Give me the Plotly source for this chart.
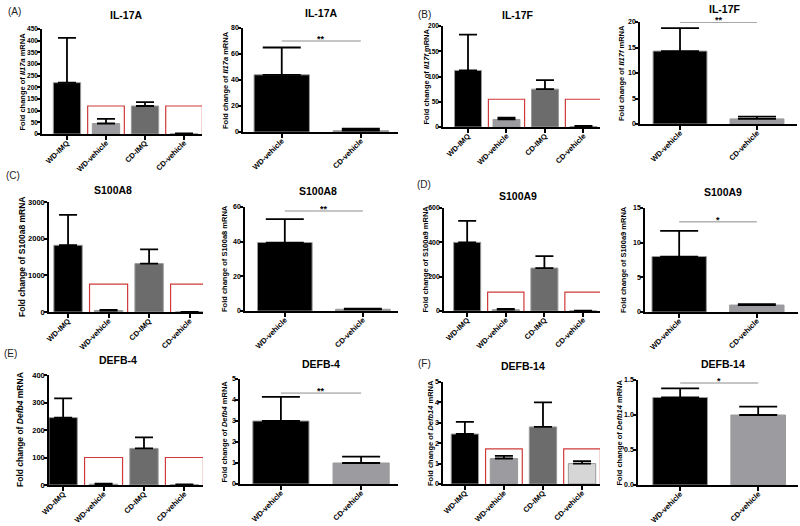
import plotly.graph_objects as go

W, H = 800, 526

# ---------------- data ----------------
groups4 = ["WD-IMQ", "WD-vehicle", "CD-IMQ", "CD-vehicle"]
groups2 = ["WD-vehicle", "CD-vehicle"]

il17a_all = [220, 45, 120, 1]
il17a_all_err = [192, 20, 17, 2]
il17a_veh = [44, 1]
il17a_veh_err = [21, 1.5]

il17f_all = [112, 15, 75, 1]
il17f_all_err = [71, 3.5, 18, 1]
il17f_veh = [14.3, 1.0]
il17f_veh_err = [4.5, 0.45]

s100a8_all = [1820, 40, 1320, 1]
s100a8_all_err = [830, 15, 390, 1]
s100a8_veh = [39.5, 1.0]
s100a8_veh_err = [13.5, 0.3]

s100a9_all = [400, 8, 250, 1]
s100a9_all_err = [125, 4, 70, 1]
s100a9_veh = [8.0, 1.0]
s100a9_veh_err = [3.7, 0.15]

defb4_all = [245, 3, 133, 1]
defb4_all_err = [70, 2, 40, 1]
defb4_veh = [3.0, 1.0]
defb4_veh_err = [1.15, 0.3]

defb14_all = [2.45, 1.25, 2.8, 1.0]
defb14_all_err = [0.6, 0.13, 1.2, 0.12]
defb14_veh = [1.25, 1.0]
defb14_veh_err = [0.13, 0.12]

sig_labels = ["**", "**", "**", "*", "**", "*"]

# ---------------- styles / layout ----------------
colors4 = ["#000000", "#9c9ca0", "#6c6c6c", "#d6d6d6"]
colors2 = ["#000000", "#9c9ca0"]
FONT = "Liberation Sans, Arial, sans-serif"

# x0,x1 = px of y-axis / end of x-axis; ytop,yz = px of top / zero
panels = [
    dict(title="IL-17A", gene="<i>Il17a</i>", y=il17a_all, e=il17a_all_err, cats=groups4,
         x0=42, x1=202, ytop=29, yz=134, ymax=450, dtick=50, xr=[-0.64, 3.46],
         tpos=(126, 15), yoff=20, box=(120, -12), fs=7.5, tf=6.5),
    dict(title="IL-17A", gene="<i>Il17a</i>", y=il17a_veh, e=il17a_veh_err, cats=groups2,
         x0=243, x1=398, ytop=28, yz=132, ymax=80, dtick=20, xr=[-0.49, 1.47],
         tpos=(321, 13), yoff=17, sig=(70, sig_labels[0]), fs=7.5, tf=7),
    dict(title="IL-17F", gene="<i>Il17f</i>", y=il17f_all, e=il17f_all_err, cats=groups4,
         x0=443, x1=600, ytop=26, yz=127, ymax=200, dtick=50, xr=[-0.65, 3.43],
         tpos=(518, 15), yoff=17, box=(55, -6), fs=7.5, tf=6.5),
    dict(title="IL-17F", gene="<i>Il17f</i>", y=il17f_veh, e=il17f_veh_err, cats=groups2,
         x0=640, x1=797, ytop=22, yz=124, ymax=20, dtick=5, xr=[-0.52, 1.52],
         tpos=(725, 9), yoff=19, sig=(19.95, sig_labels[1]), fs=7.5, tf=7),
    dict(title="S100A8", gene="S100a8", y=s100a8_all, e=s100a8_all_err, cats=groups4,
         x0=49, x1=203, ytop=202, yz=312, ymax=3000, dtick=1000, xr=[-0.47, 3.33],
         tpos=(113, 190), yoff=27, box=(760, -55), fs=8.5, tf=7.5),
    dict(title="S100A8", gene="S100a8", y=s100a8_veh, e=s100a8_veh_err, cats=groups2,
         x0=245, x1=398, ytop=207, yz=311, ymax=60, dtick=20, xr=[-0.51, 1.45],
         tpos=(318, 191), yoff=20, sig=(57.7, sig_labels[2]), fs=7.5, tf=7),
    dict(title="S100A9", gene="S100a9", y=s100a9_all, e=s100a9_all_err, cats=groups4,
         x0=444, x1=600, ytop=208, yz=311, ymax=600, dtick=200, xr=[-0.6, 3.44],
         tpos=(518, 196), yoff=19, box=(110, -12), fs=7.5, tf=7),
    dict(title="S100A9", gene="S100a9", y=s100a9_veh, e=s100a9_veh_err, cats=groups2,
         x0=645, x1=798, ytop=208, yz=312, ymax=15, dtick=5, xr=[-0.44, 1.53],
         tpos=(723, 192), yoff=22, sig=(13, sig_labels[3]), fs=7.5, tf=7),
    dict(title="DEFB-4", gene="<i>Defb4</i>", y=defb4_all, e=defb4_all_err, cats=groups4,
         x0=49, x1=203, ytop=375, yz=485, ymax=400, dtick=100, xr=[-0.35, 3.46],
         tpos=(118, 360), yoff=29, box=(100, -12), fs=8.5, tf=7.5),
    dict(title="DEFB-4", gene="<i>Defb4</i>", y=defb4_veh, e=defb4_veh_err, cats=groups2,
         x0=240, x1=398, ytop=379, yz=484, ymax=5, dtick=1, xr=[-0.51, 1.46],
         tpos=(321, 364), yoff=16, sig=(4.33, sig_labels[4]), fs=7.5, tf=7),
    dict(title="DEFB-14", gene="<i>Defb14</i>", y=defb14_all, e=defb14_all_err, cats=groups4,
         x0=443, x1=600, ytop=382, yz=484, ymax=5, dtick=1, xr=[-0.56, 3.46],
         tpos=(523, 366), yoff=13, box=(1.72, -0.15), fs=7.5, tf=7),
    dict(title="DEFB-14", gene="<i>Defb14</i>", y=defb14_veh, e=defb14_veh_err, cats=groups2,
         x0=638, x1=798, ytop=380, yz=485, ymax=1.5, dtick=0.5, xr=[-0.54, 1.51],
         tpos=(723, 364), yoff=19, sig=(1.457, sig_labels[5]), fs=7.5, tf=7, fmt=".1f"),
]

panel_letters = [("(A)", 6, 12), ("(B)", 416, 15), ("(C)", 4, 175),
                 ("(D)", 415, 184), ("(E)", 2, 353), ("(F)", 416, 363)]

fig = go.Figure()
annotations = []
layout = {}

for k, p in enumerate(panels, start=1):
    xa = "x" if k == 1 else f"x{k}"
    ya = "y" if k == 1 else f"y{k}"
    n = len(p["cats"])
    cols = colors4 if n == 4 else colors2
    cap = 9 if n == 4 else 19
    xs = list(range(n))
    fig.add_trace(go.Bar(
        x=xs, y=p["y"], width=0.7, xaxis=xa, yaxis=ya, showlegend=False,
        marker=dict(color=cols, line=dict(color="#9a9a9a", width=1)),
        error_y=dict(type="data", symmetric=False, array=p["e"], arrayminus=[0] * n,
                     color="black", thickness=1.8, width=cap),
    ))
    if "box" in p:
        top, bot = p["box"]
        for i in (1, 3):
            fig.add_trace(go.Scatter(
                x=[i - 0.47, i + 0.47, i + 0.47, i - 0.47, i - 0.47],
                y=[bot, bot, top, top, bot], mode="lines", xaxis=xa, yaxis=ya,
                line=dict(color="#d03a3a", width=1.2), cliponaxis=False,
                showlegend=False, hoverinfo="skip"))
    if "sig" in p:
        h, lab = p["sig"]
        fig.add_trace(go.Scatter(
            x=[0, 1], y=[h, h], mode="lines", xaxis=xa, yaxis=ya,
            line=dict(color="#8c8c8c", width=1), cliponaxis=False,
            showlegend=False, hoverinfo="skip"))
        annotations.append(dict(x=0.5, y=h, xref=xa, yref=ya, text=lab, showarrow=False,
                                yanchor="bottom", yshift=-5,
                                font=dict(family=FONT, size=9, color="black", weight="bold")))

    dom_x = [p["x0"] / W, p["x1"] / W]
    dom_y = [1 - p["yz"] / H, 1 - p["ytop"] / H]
    axis_key_x = "xaxis" if k == 1 else f"xaxis{k}"
    axis_key_y = "yaxis" if k == 1 else f"yaxis{k}"
    layout[axis_key_x] = dict(
        domain=dom_x, anchor=ya, range=p["xr"], showline=True, linecolor="black",
        linewidth=1.5, ticks="outside", ticklen=4, tickwidth=1.5, tickcolor="black",
        tickvals=xs, ticktext=p["cats"], tickangle=-45, showgrid=False, zeroline=False,
        automargin=False, ticklabelstandoff=-4,
        tickfont=dict(family=FONT, size=7.5, color="black", weight="bold"))
    ykw = dict(
        domain=dom_y, anchor=xa, range=[0, p["ymax"]], dtick=p["dtick"], tick0=0,
        showline=True, linecolor="black", linewidth=1.5, ticks="outside", ticklen=3,
        tickwidth=1.5, tickcolor="black", showgrid=False, zeroline=False,
        automargin=False, ticklabelstandoff=-2,
        tickfont=dict(family=FONT, size=p["tf"], color="black", weight="bold"))
    if "fmt" in p:
        ykw["tickformat"] = p["fmt"]
    layout[axis_key_y] = ykw

    # y-axis title
    annotations.append(dict(
        x=(p["x0"] - p["yoff"]) / W, y=(dom_y[0] + dom_y[1]) / 2, xref="paper", yref="paper",
        text=f"Fold change of {p['gene']} mRNA", textangle=-90, showarrow=False,
        xanchor="center", yanchor="middle",
        font=dict(family=FONT, size=p["fs"], color="black", weight="bold")))
    # panel title
    tx, ty = p["tpos"]
    annotations.append(dict(
        x=tx / W, y=1 - ty / H, xref="paper", yref="paper", text=p["title"],
        showarrow=False, xanchor="center", yanchor="middle",
        font=dict(family=FONT, size=10.5, color="black", weight="bold")))

for lab, px, py in panel_letters:
    annotations.append(dict(
        x=px / W, y=1 - py / H, xref="paper", yref="paper", text=lab, showarrow=False,
        xanchor="left", yanchor="middle",
        font=dict(family=FONT, size=10, color="#222")))

fig.update_layout(
    width=W, height=H, margin=dict(l=0, r=0, t=0, b=0, autoexpand=False),
    paper_bgcolor="white", plot_bgcolor="white", bargap=0.3,
    annotations=annotations, **layout)

fig.write_html("out.html", config={"displayModeBar": False},
               post_script="document.body.style.margin='0';document.body.style.overflow='hidden';")
